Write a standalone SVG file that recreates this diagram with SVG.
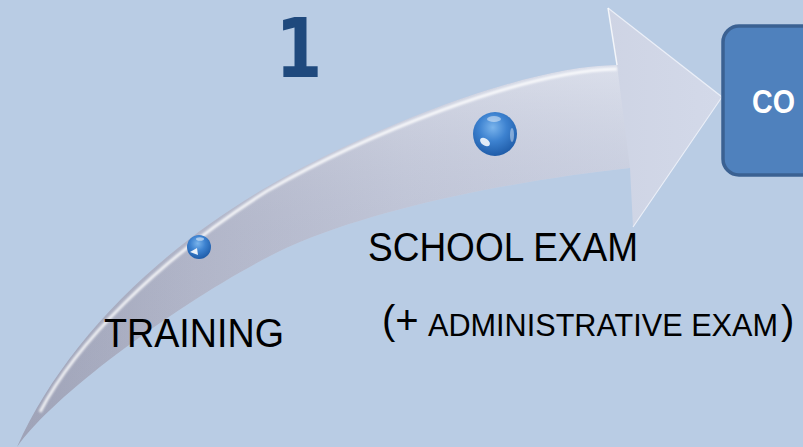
<svg xmlns="http://www.w3.org/2000/svg" width="803" height="447" viewBox="0 0 803 447">
  <defs>
    <linearGradient id="arrowFill" x1="17" y1="0" x2="722" y2="0" gradientUnits="userSpaceOnUse">
      <stop offset="0" stop-color="#a1a5b9"/>
      <stop offset="0.25" stop-color="#b6bacc"/>
      <stop offset="0.55" stop-color="#c6cbdc"/>
      <stop offset="1" stop-color="#d3d9e9"/>
    </linearGradient>
    <linearGradient id="shade" x1="0" y1="60" x2="0" y2="230" gradientUnits="userSpaceOnUse">
      <stop offset="0" stop-color="#ffffff" stop-opacity="0.28"/>
      <stop offset="1" stop-color="#8c92ad" stop-opacity="0.12"/>
    </linearGradient>
    <radialGradient id="ball" cx="0.45" cy="0.35" r="0.7">
      <stop offset="0" stop-color="#7ab4ec"/>
      <stop offset="0.45" stop-color="#3d82d0"/>
      <stop offset="1" stop-color="#1b57a3"/>
    </radialGradient>
    <filter id="soft" x="-10%" y="-10%" width="120%" height="120%">
      <feGaussianBlur stdDeviation="1"/>
    </filter>
    <clipPath id="arrowClip">
      <path d="M17,447 C60,350 150,255 267,187 C361,133 520,66 617,65 L608,8 L722,97 L633,227 L630,168 C520,180 390,205 300,242 C220,275 60,385 17,447 Z"/>
    </clipPath>
  </defs>
  <style>
    .lbl { font-family: "Liberation Sans", Arial, sans-serif; fill: #000000; }
    .node-box { fill: #4f81bd; stroke: #3b6192; stroke-width: 3.5; }
    .hl { fill: #ffffff; }
  </style>

  <rect x="0" y="0" width="803" height="447" fill="#b9cce4"/>

  <g id="arrow">
    <path d="M17,447 C60,350 150,255 267,187 C361,133 520,66 617,65 L608,8 L722,97 L633,227 L630,168 C520,180 390,205 300,242 C220,275 60,385 17,447 Z" fill="url(#arrowFill)"/>
    <g clip-path="url(#arrowClip)">
      <path d="M17,447 C60,350 150,255 267,187 C361,133 520,66 617,65 L630,168 C520,180 390,205 300,242 C220,275 60,385 17,447 Z" fill="url(#shade)"/>
      <path d="M40,412 C75,345 155,262 267,191 C361,137 520,71 617,69" fill="none" stroke="#ffffff" stroke-width="3" stroke-opacity="0.85" filter="url(#soft)"/>
    </g>
    <path d="M608,8 L722,97 L633,227" fill="none" stroke="#eef2fa" stroke-width="1.2" stroke-opacity="0.9"/>
    <path d="M608,8 L617,65" fill="none" stroke="#ffffff" stroke-width="1.5" stroke-opacity="0.8"/>
  </g>

  <g id="sphere-training">
    <circle cx="199" cy="247" r="12" fill="url(#ball)"/>
    <path d="M190,252 L197,248 L198,255 Z" class="hl" opacity="0.9"/>
    <ellipse cx="200" cy="239" rx="4" ry="1.8" class="hl" opacity="0.5"/>
  </g>

  <g id="sphere-school">
    <circle cx="495" cy="134" r="22" fill="url(#ball)"/>
    <ellipse cx="485" cy="142" rx="5.5" ry="3.5" class="hl" opacity="0.85" transform="rotate(35 485 142)"/>
    <ellipse cx="494" cy="119" rx="7" ry="3" class="hl" opacity="0.45"/>
    <ellipse cx="512" cy="135" rx="2" ry="7" class="hl" opacity="0.4"/>
  </g>

  <g id="step-number">
    <text x="0" y="77" text-anchor="middle" font-family="'DejaVu Sans', sans-serif" font-weight="bold" font-size="82" fill="#1f497d" transform="translate(299 0) scale(0.82 1)">1</text>
  </g>

  <g id="label-training">
    <text class="lbl" x="104" y="347" font-size="41" textLength="180" lengthAdjust="spacingAndGlyphs">TRAINING</text>
  </g>

  <g id="label-school">
    <text class="lbl" x="368" y="261" font-size="40" textLength="270" lengthAdjust="spacingAndGlyphs">SCHOOL EXAM</text>
    <text class="lbl" x="382" y="334" font-size="40">(+</text>
    <text class="lbl" x="428" y="336" font-size="31" textLength="350" lengthAdjust="spacingAndGlyphs">ADMINISTRATIVE EXAM</text>
    <text class="lbl" x="781" y="334" font-size="40">)</text>
  </g>

  <g id="component-box">
    <rect class="node-box" x="723" y="26" width="120" height="149" rx="16" ry="16"/>
    <text x="752" y="113" font-family="'Liberation Sans', Arial, sans-serif" font-weight="bold" font-size="34" fill="#ffffff" textLength="43" lengthAdjust="spacingAndGlyphs">CO</text>
  </g>
</svg>
